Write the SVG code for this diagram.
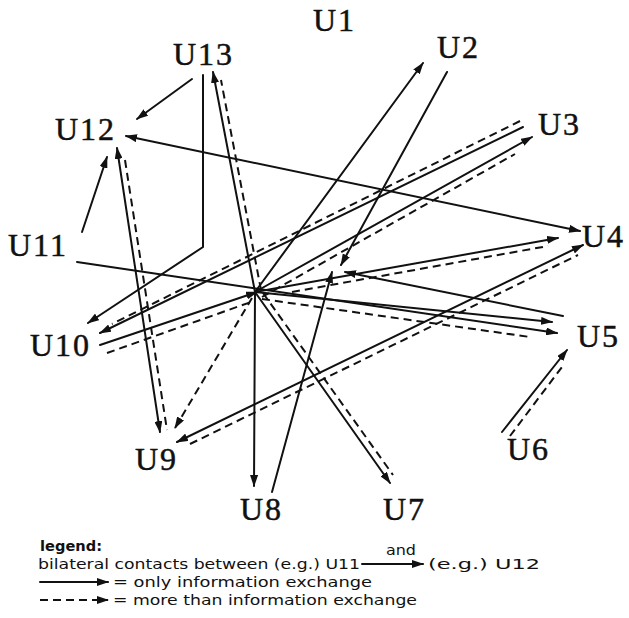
<svg xmlns="http://www.w3.org/2000/svg" width="629" height="618" viewBox="0 0 629 618">
<style>
.s{stroke:#111;stroke-width:2;fill:none;stroke-linecap:round}
.d{stroke:#111;stroke-width:2;fill:none;stroke-dasharray:8 5}
.lbl{font-family:"Liberation Serif","Times New Roman",serif;font-size:32px;letter-spacing:2px;fill:#111;stroke:#111;stroke-width:0.5}
.leg{font-family:"DejaVu Sans","Liberation Sans",sans-serif;font-size:14px;fill:#111}
</style>
<defs>
<marker id="ah" viewBox="0 0 12 8" refX="11" refY="4" markerWidth="12" markerHeight="8" markerUnits="userSpaceOnUse" orient="auto-start-reverse">
<path d="M0,0 L12,4 L0,8 z" fill="#111"/>
</marker>
</defs>
<rect width="629" height="618" fill="#fff"/>

<g id="nodes">
<g id="U1"><text class="lbl" x="313" y="31">U1</text></g>
<g id="U2"><text class="lbl" x="437" y="58">U2</text></g>
<g id="U3"><text class="lbl" x="538" y="135">U3</text></g>
<g id="U4"><text class="lbl" x="582" y="247">U4</text></g>
<g id="U5"><text class="lbl" x="577" y="347">U5</text></g>
<g id="U6"><text class="lbl" x="507" y="460">U6</text></g>
<g id="U7"><text class="lbl" x="383" y="520">U7</text></g>
<g id="U8"><text class="lbl" x="240" y="520">U8</text></g>
<g id="U9"><text class="lbl" x="135" y="470">U9</text></g>
<g id="U10"><text class="lbl" x="30" y="356">U10</text></g>
<g id="U11"><text class="lbl" x="8" y="256">U11</text></g>
<g id="U12"><text class="lbl" x="55" y="140">U12</text></g>
<g id="U13"><text class="lbl" x="173" y="65">U13</text></g>
</g>

<g id="connectors">
<!-- U13 -> U12 -->
<line class="s" x1="192" y1="79" x2="137" y2="119" marker-end="url(#ah)"/>
<!-- U12 <-> U4 -->
<line class="s" x1="126" y1="136" x2="580" y2="231" marker-start="url(#ah)" marker-end="url(#ah)"/>
<!-- U13 bent -> U10 -->
<polyline class="s" points="203,75 203,247 88,323" marker-end="url(#ah)"/>
<!-- hub -> U13 -->
<line class="s" x1="255" y1="292" x2="213" y2="72" marker-end="url(#ah)"/>
<line class="d" x1="261" y1="290" x2="221" y2="80"/>
<!-- U12 <-> U9 -->
<line class="s" x1="117" y1="148" x2="160" y2="432" marker-start="url(#ah)" marker-end="url(#ah)"/>
<line class="d" x1="125" y1="160" x2="167" y2="430"/>
<!-- U11 -> U12 -->
<line class="s" x1="82" y1="232" x2="107" y2="157" marker-end="url(#ah)"/>
<!-- U11 -> U5 -->
<line class="s" x1="77" y1="262" x2="557" y2="333" marker-end="url(#ah)"/>
<!-- hub -> U2 -->
<line class="s" x1="255" y1="292" x2="423" y2="63" marker-end="url(#ah)"/>
<!-- U2 -> center -->
<line class="s" x1="447" y1="72" x2="341" y2="265" marker-end="url(#ah)"/>
<!-- U3 -> U10 -->
<line class="s" x1="523" y1="127" x2="100" y2="333" marker-end="url(#ah)"/>
<line class="d" x1="520" y1="121" x2="112" y2="324"/>
<!-- hub -> U3 -->
<line class="s" x1="255" y1="292" x2="532" y2="137" marker-end="url(#ah)"/>
<line class="d" x1="262" y1="297" x2="515" y2="154"/>
<!-- U10 -> hub -->
<line class="s" x1="100" y1="345" x2="257" y2="292" marker-end="url(#ah)"/>
<line class="d" x1="107" y1="353" x2="251" y2="302"/>
<!-- hub -> U8 -->
<line class="s" x1="255" y1="292" x2="254" y2="486" marker-end="url(#ah)"/>
<!-- U8 -> center -->
<line class="s" x1="272" y1="492" x2="332" y2="272" marker-end="url(#ah)"/>
<!-- hub -> U7 -->
<line class="s" x1="255" y1="292" x2="390" y2="483" marker-end="url(#ah)"/>
<line class="d" x1="263" y1="293" x2="393" y2="475"/>
<!-- hub -> U9 dashed -->
<line class="d" x1="252" y1="298" x2="175" y2="428" marker-end="url(#ah)"/>
<!-- U9 <-> U4 -->
<line class="s" x1="177" y1="442" x2="583" y2="245" marker-start="url(#ah)" marker-end="url(#ah)"/>
<line class="d" x1="190" y1="444" x2="578" y2="255"/>
<!-- U5 -> center -->
<line class="s" x1="563" y1="316" x2="345" y2="272" marker-end="url(#ah)"/>
<!-- hub -> U4 -->
<line class="s" x1="255" y1="292" x2="558" y2="238" marker-end="url(#ah)"/>
<line class="d" x1="292" y1="292" x2="548" y2="246"/>
<!-- hub -> U5 -->
<line class="s" x1="255" y1="292" x2="552" y2="322" marker-end="url(#ah)"/>
<line class="d" x1="262" y1="299" x2="530" y2="337"/>
<!-- U6 -> U5 -->
<line class="s" x1="502" y1="432" x2="567" y2="350" marker-end="url(#ah)"/>
<line class="d" x1="510" y1="436" x2="562" y2="367"/>
</g>

<g id="legend">
<text class="leg" x="40" y="551" font-weight="bold" textLength="62" lengthAdjust="spacingAndGlyphs">legend:</text>
<text class="leg" x="38" y="569" textLength="322" lengthAdjust="spacingAndGlyphs">bilateral contacts between (e.g.) U11</text>
<text class="leg" x="386" y="555" textLength="30" lengthAdjust="spacingAndGlyphs">and</text>
<line class="s" x1="362" y1="564" x2="423" y2="564" stroke-width="1.5" marker-end="url(#ah)"/>
<text class="leg" x="428" y="569" textLength="112" lengthAdjust="spacingAndGlyphs">(e.g.) U12</text>
<line class="s" x1="40" y1="582" x2="108" y2="582" stroke-width="1.5" marker-end="url(#ah)"/>
<text class="leg" x="113" y="587" textLength="259" lengthAdjust="spacingAndGlyphs">= only information exchange</text>
<line class="d" x1="40" y1="600" x2="108" y2="600" stroke-width="1.5" marker-end="url(#ah)"/>
<text class="leg" x="113" y="605" textLength="304" lengthAdjust="spacingAndGlyphs">= more than information exchange</text>
</g>
</svg>
